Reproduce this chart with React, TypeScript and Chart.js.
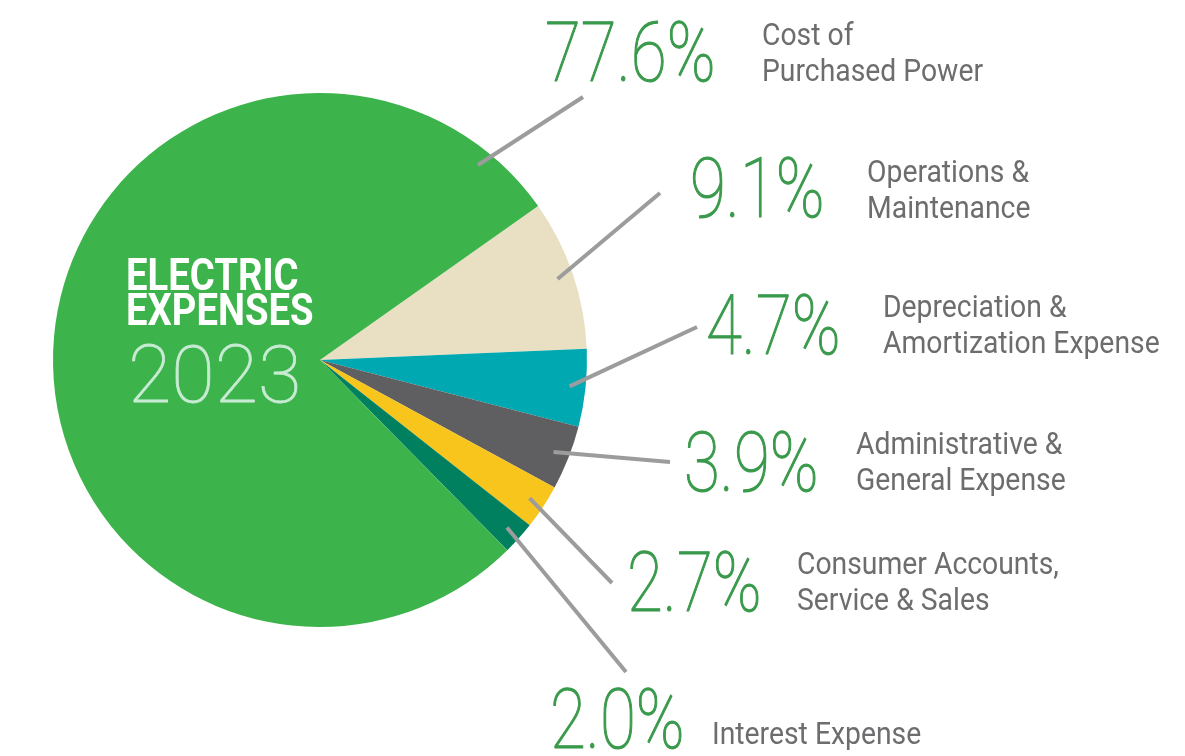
import { useEffect, useRef } from "react";
import { Chart, registerables } from "chart.js";

Chart.register(...registerables);

// ---- Data ----
const categories = [
  "Operations & Maintenance",
  "Depreciation & Amortization Expense",
  "Administrative & General Expense",
  "Consumer Accounts, Service & Sales",
  "Interest Expense",
  "Cost of Purchased Power",
];
const values = [9.1, 4.7, 3.9, 2.7, 2.0, 77.6];
const sliceColors = ["#e9e0c4", "#00a8b1", "#5f5e61", "#f7c51c", "#00805f", "#3cb44b"];
const labelLines = [
  ["Operations &", "Maintenance"],
  ["Depreciation &", "Amortization Expense"],
  ["Administrative &", "General Expense"],
  ["Consumer Accounts,", "Service & Sales"],
  ["Interest Expense"],
  ["Cost of", "Purchased Power"],
];
const titleLines = ["ELECTRIC", "EXPENSES"];
const titleYear = "2023";

// ---- Annotation layout (pixel placement of callouts) ----
const callouts = [
  { end: [660, 193], pct: [690, 217], lbl: [867, 182], leaderAngle: null },
  { end: [697, 327], pct: [706, 354], lbl: [883, 317], leaderAngle: null },
  { end: [670, 462], pct: [684, 491], lbl: [856, 454], leaderAngle: null },
  { end: [612, 583], pct: [627, 611], lbl: [797, 574], leaderAngle: null },
  { end: [626, 672], pct: [550, 748], lbl: [712, 744], leaderAngle: null },
  { end: [583, 97], pct: [545, 81], lbl: [762, 45], leaderAngle: -51 },
];

const PCT_COLOR = "#3a9a4c";
const LABEL_COLOR = "#6d6d6f";
const LINE_COLOR = "#9c9c9c";

function drawText(
  ctx: CanvasRenderingContext2D,
  text: string,
  x: number,
  y: number,
  font: string,
  color: string,
  sx: number,
  strokeW = 0
) {
  ctx.save();
  ctx.translate(x, y);
  ctx.scale(sx, 1);
  ctx.font = font;
  ctx.fillStyle = color;
  ctx.textAlign = "left";
  ctx.textBaseline = "alphabetic";
  ctx.fillText(text, 0, 0);
  if (strokeW > 0) {
    ctx.strokeStyle = color;
    ctx.lineWidth = strokeW;
    ctx.lineJoin = "round";
    ctx.strokeText(text, 0, 0);
  }
  ctx.restore();
}

const calloutPlugin = {
  id: "callouts",
  afterDraw(chart: any) {
    const ctx: CanvasRenderingContext2D = chart.ctx;
    const meta = chart.getDatasetMeta(0);
    meta.data.forEach((arc: any, i: number) => {
      const c = callouts[i];
      const { x, y, startAngle, endAngle, outerRadius } = arc.getProps(
        ["x", "y", "startAngle", "endAngle", "outerRadius"],
        true
      );
      const ang = c.leaderAngle !== null ? (c.leaderAngle * Math.PI) / 180 : (startAngle + endAngle) / 2;
      const r = outerRadius * 0.94;
      const sx = x + Math.cos(ang) * r;
      const sy = y + Math.sin(ang) * r;
      ctx.save();
      ctx.strokeStyle = LINE_COLOR;
      ctx.lineWidth = 4;
      ctx.beginPath();
      ctx.moveTo(sx, sy);
      ctx.lineTo(c.end[0], c.end[1]);
      ctx.stroke();
      ctx.restore();

      drawText(ctx, values[i].toFixed(1) + "%", c.pct[0], c.pct[1], "100 84px Roboto", PCT_COLOR, 0.78, 1.2);
      labelLines[i].forEach((t, j) => {
        drawText(ctx, t, c.lbl[0], c.lbl[1] + j * 36, "400 32px Roboto", LABEL_COLOR, 0.885);
      });
    });

    // Title inside the pie
    drawText(ctx, titleLines[0], 126, 290, "700 45px Roboto", "#ffffff", 0.85);
    drawText(ctx, titleLines[1], 126, 325, "700 45px Roboto", "#ffffff", 0.85);
    drawText(ctx, titleYear, 128, 402, "100 80px Roboto", "#c8ebd4", 0.99, 0.8);
  },
};

export default function App() {
  const ref = useRef<HTMLCanvasElement | null>(null);
  useEffect(() => {
    if (!ref.current) return;
    const chart = new Chart(ref.current, {
      type: "pie",
      data: {
        labels: categories,
        datasets: [
          {
            data: values,
            backgroundColor: sliceColors,
            borderWidth: 0,
            hoverOffset: 0,
          },
        ],
      },
      options: {
        responsive: false,
        animation: false,
        rotation: 54.8,
        layout: { padding: { left: 53, right: 598, top: 93, bottom: 129 } },
        plugins: {
          legend: { display: false },
          tooltip: { enabled: false },
        },
        events: [],
      },
      plugins: [calloutPlugin],
    });
    return () => chart.destroy();
  }, []);
  return (
    <div style={{ position: "fixed", left: 0, top: 0, width: 1185, height: 756, background: "#fff" }}>
      <canvas ref={ref} width={1185} height={756} style={{ display: "block" }} />
    </div>
  );
}
